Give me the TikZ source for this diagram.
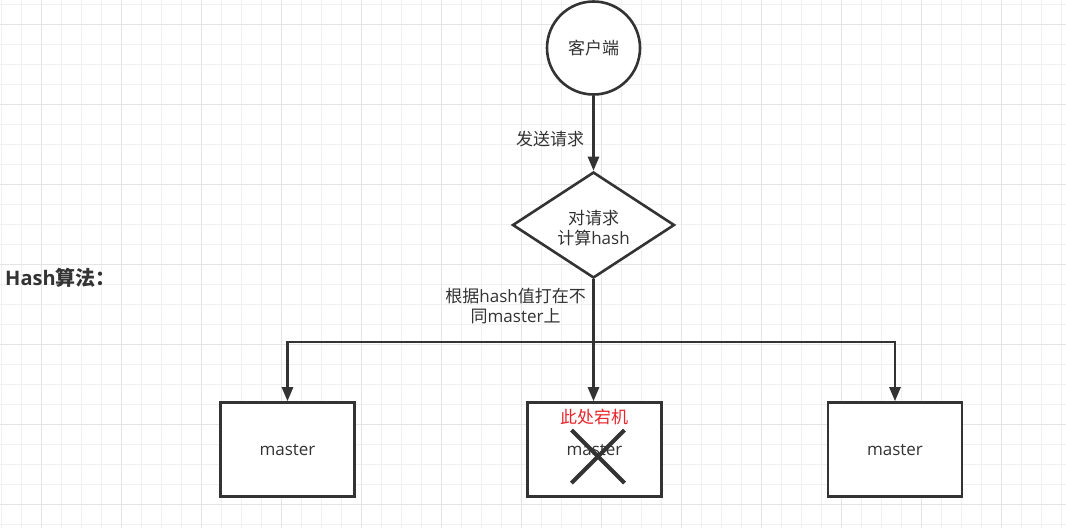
\documentclass[tikz,border=0pt]{standalone}
\usepackage{fontspec}
\setmainfont{Open Sans}
\newfontfamily\cjk{Noto Sans CJK SC}
\usetikzlibrary{shapes.geometric,arrows.meta,calc}
\definecolor{ink}{HTML}{333333}
\definecolor{gridminor}{HTML}{F0F0F0}
\definecolor{gridmajor}{HTML}{E4E4E4}
\definecolor{alarm}{HTML}{E8262B}
\begin{document}
\begin{tikzpicture}[x=1pt,y=-1pt,
  txt/.style={text=ink, font=\fontsize{17}{20}\selectfont, inner sep=0},
  shapeline/.style={draw=ink, line width=2.6, fill=white},
  mbox/.style={shapeline, minimum width=134, minimum height=94, inner sep=0, txt},
  conn/.style={draw=ink, line width=2.6, -{Triangle[length=14pt,width=11pt]}},
  cross/.style={draw=ink, line width=4.2}]
\useasboundingbox (0,0) rectangle (1066,528);
\fill[white] (0,0) rectangle (1066,528);
% grid
\foreach \i in {0,...,53} \draw[gridminor, line width=1] ({1+20*\i},0) -- ({1+20*\i},528);
\foreach \j in {0,...,26} \draw[gridminor, line width=1] (0,{4+20*\j}) -- (1066,{4+20*\j});
\foreach \i in {0,...,13} \draw[gridmajor, line width=1] ({41+80*\i},0) -- ({41+80*\i},528);
\foreach \j in {0,...,6} \draw[gridmajor, line width=1] (0,{24+80*\j}) -- (1066,{24+80*\j});

% nodes
\node[shapeline, circle, minimum size=93, inner sep=0, txt] (client) at (593.5,48) {\cjk 客户端};
\node[shapeline, diamond, aspect=1.53, minimum width=162, minimum height=106, inner sep=0] (hash) at (593.5,225) {};
\node[txt, align=center] (hashtxt) at (593.5,228) {\cjk 对请求\\{\cjk 计算}hash};
\node[mbox] (m1) at (287.5,449.5) {\raisebox{-1.5pt}{master}};
\node[mbox] (m2) at (594.5,449.5) {\raisebox{-1.5pt}{master}};
\node[mbox] (m3) at (895,449.5) {\raisebox{-1.5pt}{master}};
\node[txt, text=alarm] (down) at (594,417) {\cjk 此处宕机};
\node[txt, font=\fontsize{20}{24}\selectfont\bfseries, anchor=west] (title) at (5,278) {Hash{\cjk 算法：}};

\coordinate (jy) at (0,342);

% connectors
\draw[conn] (client.south) -- node[txt, anchor=east, pos=0.58, xshift=-8] (lsend) {\cjk 发送请求} (hash.north);
\draw[conn] (hash.south) -- (hash.south |- m2.north);
\draw[conn] (hash.south) -- (hash.south |- jy) -| (m1.north);
\draw[conn] (hash.south) -- (hash.south |- jy) -| (m3.north);
\node[txt, align=center, anchor=east] (lroute) at (586,306) {{\cjk 根据}hash{\cjk 值打在不}\\{\cjk 同}master{\cjk 上}};

% cross on failed master
\draw[cross] ($(m2.center)+(-23,-19.5)$) -- ($(m2.center)+(30,33.5)$);
\draw[cross] ($(m2.center)+(30,-19.5)$) -- ($(m2.center)+(-23,33.5)$);
\end{tikzpicture}
\end{document}
